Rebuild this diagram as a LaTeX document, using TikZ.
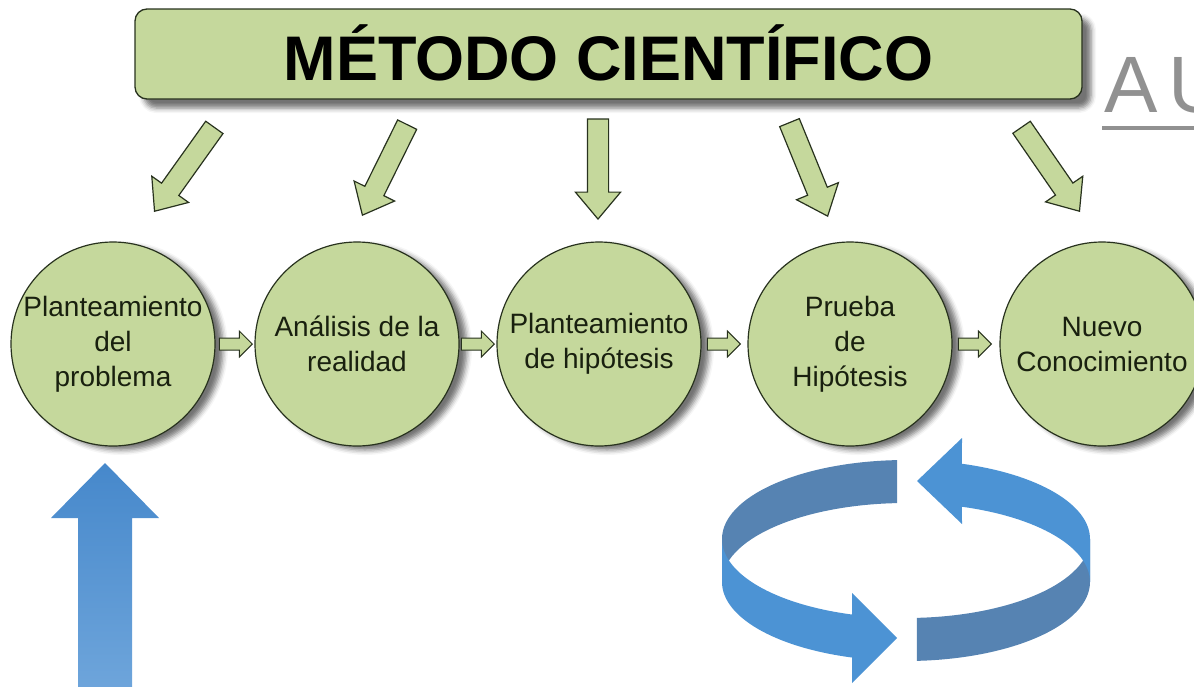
\documentclass[tikz,border=0pt]{standalone}
\usepackage{fontspec}
\setmainfont{Liberation Sans}
\usetikzlibrary{shapes.arrows,shadows.blur}
\definecolor{lgreen}{RGB}{197,216,156}
\definecolor{dgreen}{RGB}{40,50,30}
\definecolor{bdark}{RGB}{86,131,178}
\definecolor{blight}{RGB}{76,147,212}
\definecolor{btop}{RGB}{70,136,203}
\definecolor{bbot}{RGB}{110,165,219}
\definecolor{augray}{RGB}{145,145,145}
\definecolor{txt}{RGB}{25,32,15}
\begin{document}
\begin{tikzpicture}[x=1pt,y=1pt,
  stage/.style={circle, draw=dgreen, line width=1.2pt, fill=lgreen,
    minimum size=204pt, inner sep=0pt, align=center,
    font=\fontsize{28}{35}\selectfont, text=txt,
    blur shadow={shadow xshift=8pt, shadow yshift=-4pt, shadow blur radius=5pt, shadow opacity=55}},
  bigarrow/.style={single arrow, draw=dgreen, line width=1.2pt, fill=lgreen,
    minimum height=100pt, inner xsep=0pt, inner ysep=10pt,
    single arrow head extend=12pt, single arrow tip angle=80, anchor=tip},
  smallarrow/.style={single arrow, draw=dgreen, line width=1pt, fill=lgreen,
    minimum height=33pt, inner xsep=0pt, inner ysep=5.5pt,
    single arrow head extend=7pt, anchor=tip},
  titlebox/.style={rectangle, rounded corners=12pt, draw=dgreen, line width=1.3pt,
    fill=lgreen, minimum width=947pt, minimum height=90pt, inner sep=0pt,
    text height=52pt, text depth=0pt,
    font=\fontsize{63}{63}\selectfont\bfseries,
    blur shadow={shadow xshift=9pt, shadow yshift=-9pt, shadow blur radius=5pt, shadow opacity=55}}
]
\useasboundingbox (0,0) rectangle (1194,-686);
\clip (0,0) rectangle (1194,-686);

% title
\node[titlebox] (title) at (608.5,-54) {MÉTODO CIENTÍFICO};

% AU
\node[anchor=base west, inner sep=0pt, text=augray,
  font=\fontsize{80}{80}\selectfont\addfontfeatures{LetterSpace=14}] (au) at (1104,-112) {AU};
\coordinate (ul1) at (1102,-128);
\coordinate (ul2) at (1194,-128);
\draw[augray, line width=4pt] (ul1) -- (ul2);

% stages
\node[stage] (s1) at (113,-344) {Planteamiento\\del\\problema};
\node[stage] (s2) at (357,-344) {Análisis de la\\realidad};
\node[stage] (s3) at (599,-344) {Planteamiento\\de hipótesis};
\node[stage] (s4) at (850,-344) {Prueba\\de\\Hipótesis};
\node[stage] (s5) at (1102,-344) {Nuevo\\Conocimiento};

% small arrows between stages
\node[smallarrow] (a12) at (253,-344) {};
\node[smallarrow] (a23) at (495,-344) {};
\node[smallarrow] (a34) at (741,-344) {};
\node[smallarrow] (a45) at (992,-344) {};

% big arrows from title
\node[bigarrow, rotate=234.5, minimum height=103pt] (d1) at (154,-212) {};
\node[bigarrow, rotate=243.7, minimum height=101pt] (d2) at (362,-216) {};
\node[bigarrow, rotate=270, minimum height=100pt] (d3) at (598,-220) {};
\node[bigarrow, rotate=292.2, minimum height=101pt] (d4) at (828,-217) {};
\node[bigarrow, rotate=304.6, minimum height=102pt] (d5) at (1080,-212) {};

% blue up arrow
\shade[top color=btop, bottom color=bbot]
  (78,-690) -- (78,-518) -- (51,-518) -- (105,-463) -- (159,-518)
  -- (132,-518) -- (132,-690) -- cycle;

% circular arrows
\coordinate (ec) at (906,-539);
\coordinate (eb) at (906,-582);
% A back (dark)
\fill[bdark] ([shift={(92.8:184 and 79)}]ec) arc[start angle=92.8, end angle=180, x radius=184, y radius=79]
  -- (722,-582) arc[start angle=180, end angle=92.8, x radius=184, y radius=79] -- cycle;
% B front (dark)
\fill[bdark] ([shift={(273.4:184 and 79)}]ec) arc[start angle=273.4, end angle=360, x radius=184, y radius=79]
  -- (1090,-582) arc[start angle=360, end angle=273.4, x radius=184, y radius=79] -- cycle;
% A front (light)
\fill[blight] (722,-539) arc[start angle=180, end angle=253, x radius=184, y radius=79]
  -- (852,-593) -- (897,-638) -- (852,-683) -- ([shift={(253:184 and 79)}]eb)
  arc[start angle=253, end angle=180, x radius=184, y radius=79] -- cycle;
% B back (light)
\fill[blight] (1090,-539) arc[start angle=0, end angle=72.3, x radius=184, y radius=79]
  -- (962,-438) -- (917,-481) -- (962,-524) -- ([shift={(72.3:184 and 79)}]eb)
  arc[start angle=72.3, end angle=0, x radius=184, y radius=79] -- cycle;
\end{tikzpicture}
\end{document}
